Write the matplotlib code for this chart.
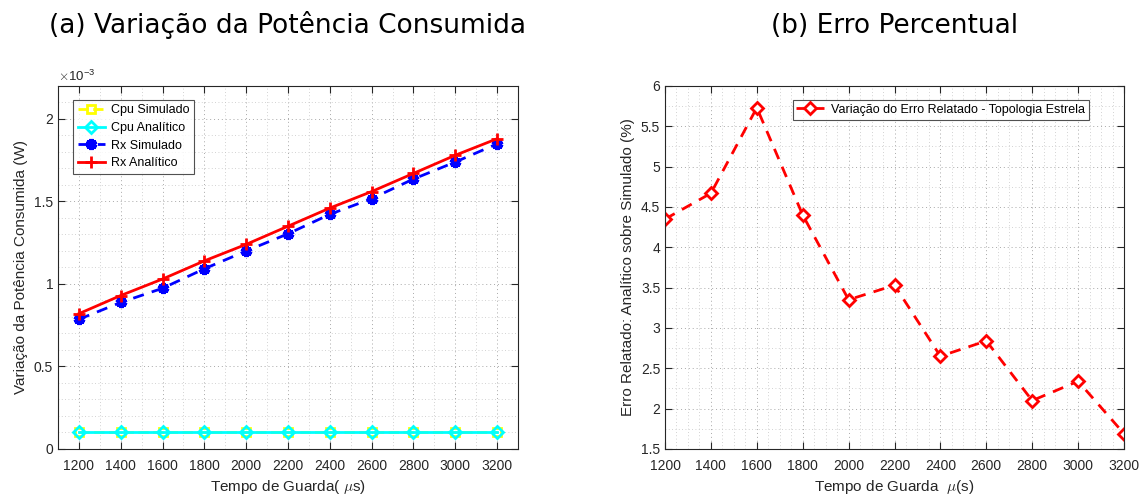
import numpy as np
import matplotlib
matplotlib.use('Agg')
import matplotlib.pyplot as plt
from matplotlib.ticker import MultipleLocator, AutoMinorLocator, FuncFormatter

plt.rcParams['font.family'] = ['Liberation Sans', 'DejaVu Sans']
plt.rcParams['mathtext.fontset'] = 'cm'

# guard time (us)
tempo = [1200, 1400, 1600, 1800, 2000, 2200, 2400, 2600, 2800, 3000, 3200]

# consumed power variation (W)
cpu_sim = [0.1e-3] * 11
cpu_ana = [0.1e-3] * 11
rx_sim = [0.786e-3, 0.888e-3, 0.974e-3, 1.092e-3, 1.200e-3, 1.304e-3,
          1.422e-3, 1.517e-3, 1.636e-3, 1.739e-3, 1.849e-3]
rx_ana = [0.82e-3, 0.93e-3, 1.03e-3, 1.14e-3, 1.24e-3, 1.35e-3,
          1.46e-3, 1.56e-3, 1.67e-3, 1.78e-3, 1.88e-3]

# relative error analytic vs simulated (%)
erro = [4.35, 4.67, 5.73, 4.40, 3.35, 3.53, 2.65, 2.84, 2.10, 2.34, 1.69]

axcol = '#262626'

fig = plt.figure(figsize=(11.46, 4.98), dpi=100)
ax1 = fig.add_axes([0.0506, 0.0984, 0.4014, 0.729])
ax2 = fig.add_axes([0.5803, 0.0984, 0.4005, 0.729])

def style(ax):
    for s in ax.spines.values():
        s.set_color(axcol)
        s.set_linewidth(0.8)
    ax.tick_params(which='both', direction='in', top=True, right=True,
                   colors=axcol, labelsize=10, length=5)
    ax.tick_params(axis='x', pad=7)
    ax.tick_params(which='minor', length=0)
    ax.grid(which='major', linestyle=(0, (1, 3)), color='#a8a8a8', linewidth=0.7)
    ax.grid(which='minor', linestyle=(0, (1, 3)), color='#c4c4c4', linewidth=0.6)
    ax.set_axisbelow(True)

# (a)
ax1.plot(tempo, cpu_sim, '--', color='yellow', lw=2, marker='s', ms=6,
         mfc='none', mew=2, label='Cpu Simulado')
ax1.plot(tempo, cpu_ana, '-', color='cyan', lw=2, marker='D', ms=6,
         mfc='none', mew=2, label='Cpu Analítico')
ax1.plot(tempo, rx_sim, '--', color='blue', lw=2, marker=(6, 2, 0), ms=8,
         mew=3, label='Rx Simulado', dashes=(4, 3))
ax1.plot(tempo, rx_ana, '-', color='red', lw=2, marker='+', ms=9,
         mew=2, label='Rx Analítico')
ax1.set_xlim(1100, 3300)
ax1.set_ylim(0, 2.2e-3)
ax1.set_xticks(tempo)
ax1.xaxis.set_minor_locator(AutoMinorLocator(2))
ax1.yaxis.set_major_locator(MultipleLocator(0.5e-3))
ax1.yaxis.set_minor_locator(AutoMinorLocator(5))
ax1.yaxis.set_major_formatter(FuncFormatter(lambda v, p: f'{v * 1e3:g}'))
style(ax1)
ax1.text(0, 1.005, r'$\times\mathregular{10^{-3}}$', transform=ax1.transAxes,
         fontsize=9.5, color=axcol, va='bottom', ha='left')
ax1.set_xlabel(r'Tempo de Guarda( $\mu$s)', fontsize=11, color=axcol)
ax1.set_ylabel('Variação da Potência Consumida (W)', fontsize=11, color=axcol)
leg = ax1.legend(loc='upper left', fontsize=9, fancybox=False,
                 edgecolor=axcol, bbox_to_anchor=(0.033, 0.961),
                 borderaxespad=0, handlelength=2.2, labelspacing=0.45,
                 borderpad=0.35, handletextpad=0.5)
leg.get_frame().set_linewidth(0.8)
ax1.set_title('(a) Variação da Potência Consumida', fontsize=19,
              family='DejaVu Sans', pad=38)

# (b)
ax2.plot(tempo, erro, '--', color='red', lw=2, marker='D', ms=6.5,
         mfc='white', mew=2, dashes=(4, 3),
         label='Variação do Erro Relatado - Topologia Estrela')
ax2.set_xlim(1200, 3200)
ax2.set_ylim(1.5, 6)
ax2.set_xticks(tempo)
ax2.xaxis.set_minor_locator(AutoMinorLocator(4))
ax2.yaxis.set_major_locator(MultipleLocator(0.5))
ax2.yaxis.set_minor_locator(AutoMinorLocator(2))
ax2.yaxis.set_major_formatter(FuncFormatter(lambda v, p: f'{v:g}'))
style(ax2)
ax2.set_xlabel(r'Tempo de Guarda  $\mu$(s)', fontsize=11, color=axcol)
ax2.set_ylabel('Erro Relatado: Analítico sobre Simulado (%)', fontsize=11,
               color=axcol)
leg2 = ax2.legend(loc='upper right', fontsize=9, fancybox=False,
                  edgecolor=axcol, bbox_to_anchor=(0.924, 0.961),
                  borderaxespad=0, handlelength=2.2, borderpad=0.3,
                  handletextpad=0.6)
leg2.get_frame().set_linewidth(0.8)
ax2.set_title('(b) Erro Percentual', fontsize=19, family='DejaVu Sans', pad=38)

fig.savefig('out.png', dpi=100)
